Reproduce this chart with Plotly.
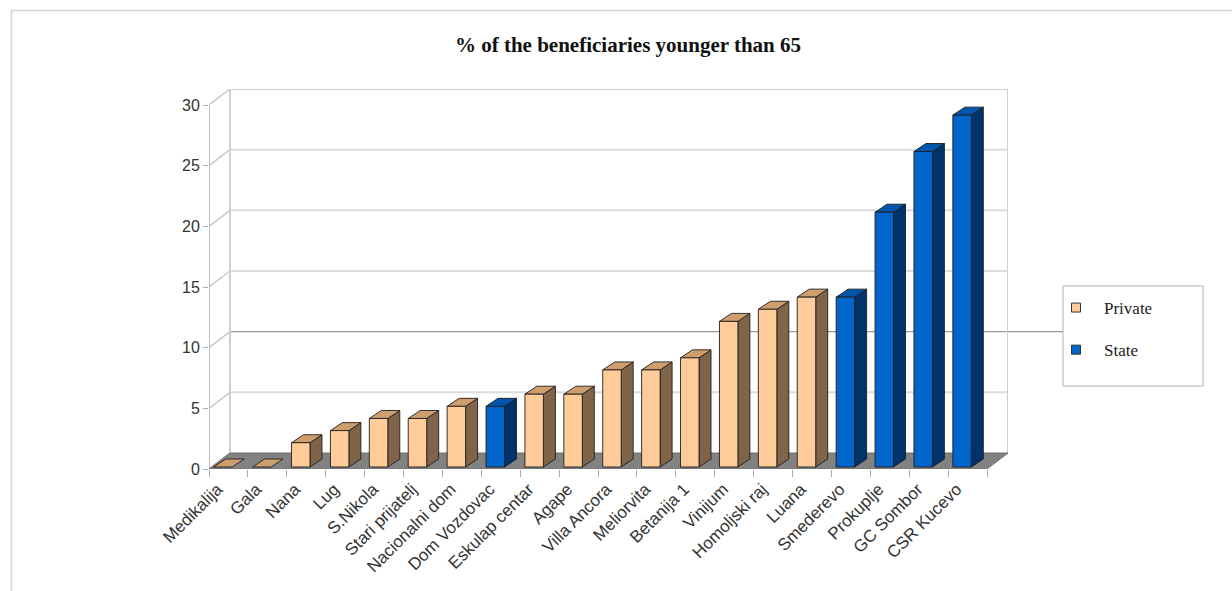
import plotly.graph_objects as go

# ---------------- data ----------------
categories = ["Medikalija", "Gala", "Nana", "Lug", "S.Nikola", "Stari prijatelj",
              "Nacionalni dom", "Dom Vozdovac", "Eskulap centar", "Agape",
              "Villa Ancora", "Meliorvita", "Betanija 1", "Vinijum",
              "Homoljski raj", "Luana", "Smederevo", "Prokuplje", "GC Sombor",
              "CSR Kucevo"]
values = [0, 0, 2, 3, 4, 4, 5, 5, 6, 6, 8, 8, 9, 12, 13, 14, 14, 21, 26, 29]
ownership = ["Private", "Private", "Private", "Private", "Private", "Private",
             "Private", "State", "Private", "Private", "Private", "Private",
             "Private", "Private", "Private", "Private", "State", "State",
             "State", "State"]
y_ticks = [0, 5, 10, 15, 20, 25, 30]
title_text = "% of the beneficiaries younger than 65"

# ---------------- geometry / style ----------------
W, H = 1232, 591
L_PX, R_PX, T_PX, B_PX = 209, 1008, 89, 469   # plot-area edges in pixels
X_PX = 38.95           # pixels per category
Y_PX = 12.133          # pixels per value unit
DX, DY = 21 / X_PX, 16 / Y_PX          # depth of the floor / walls
BX0, HW = -5.5 / X_PX, 9.25 / X_PX     # bar front-face centre shift, half width
BY0 = 2 / Y_PX                         # bar base raise
BDX, BDY = 12 / X_PX, 8 / Y_PX         # bar depth

YMAX = max(y_ticks)
n = len(categories)
x_lo, x_hi = -0.5, n - 0.5 + DX
y_lo, y_hi = 0, YMAX + DY

colors = {
    "Private": {"front": "#FFCC99", "side": "#80644A", "top": "#CF9E6E"},
    "State": {"front": "#0066CC", "side": "#003369", "top": "#0056AD"},
}
OUTLINE = "#1e1e1e"

def px2paper_x(px):
    return (px - L_PX) / (R_PX - L_PX)

def px2paper_y(py):
    return (B_PX - py) / (B_PX - T_PX)

fig = go.Figure()

# ---------------- walls & floor ----------------
grid_x, grid_y = [], []
for v in y_ticks[1:-1]:
    if v == 10:
        continue
    grid_x += [x_lo + DX, x_hi, None]
    grid_y += [v + DY, v + DY, None]
fig.add_trace(go.Scatter(x=grid_x, y=grid_y, mode="lines",
                         line=dict(color="#dcdcdc", width=2),
                         hoverinfo="skip", showlegend=False))
# darker 10-line on the back wall
fig.add_trace(go.Scatter(x=[x_lo + DX, x_hi], y=[10 + DY, 10 + DY], mode="lines",
                         line=dict(color="#9a9a9a", width=1.2),
                         hoverinfo="skip", showlegend=False))
# left wall diagonals
diag_x, diag_y = [], []
for v in y_ticks:
    diag_x += [x_lo, x_lo + DX, None]
    diag_y += [v, v + DY, None]
fig.add_trace(go.Scatter(x=diag_x, y=diag_y, mode="lines",
                         line=dict(color="#c8c8c8", width=1.5),
                         hoverinfo="skip", showlegend=False))
# wall edges (back-left vertical, top, right vertical, front axis)
fig.add_trace(go.Scatter(
    x=[x_lo + DX, x_lo + DX, None, x_lo + DX, x_hi, None, x_hi, x_hi],
    y=[DY, YMAX + DY, None, YMAX + DY, YMAX + DY, None, DY, YMAX + DY],
    mode="lines", line=dict(color="#cfcfcf", width=2),
    hoverinfo="skip", showlegend=False))
fig.add_trace(go.Scatter(x=[x_lo, x_lo], y=[0, YMAX], mode="lines",
                         line=dict(color="#a8a8a8", width=1.5),
                         hoverinfo="skip", showlegend=False))
# floor
fig.add_trace(go.Scatter(
    x=[x_lo, n - 0.5, n - 0.5 + DX, x_lo + DX, x_lo],
    y=[0, 0, DY, DY, 0], mode="lines", fill="toself",
    fillcolor="#828282", line=dict(color="#6e6e6e", width=1),
    hoverinfo="skip", showlegend=False))

# ---------------- bars ----------------
for kind in ["Private", "State"]:
    faces = {"front": ([], []), "side": ([], []), "top": ([], [])}
    for i, (v, k) in enumerate(zip(values, ownership)):
        if k != kind:
            continue
        xl = i + BX0 - HW
        xr = i + BX0 + HW
        yb = BY0
        yt = BY0 + v
        if v > 0:
            fx, fy = faces["front"]
            fx += [xl, xr, xr, xl, xl, None]
            fy += [yb, yb, yt, yt, yb, None]
            sx, sy = faces["side"]
            sx += [xr, xr + BDX, xr + BDX, xr, xr, None]
            sy += [yb, yb + BDY, yt + BDY, yt, yb, None]
        tx, ty = faces["top"]
        tx += [xl, xr, xr + BDX, xl + BDX, xl, None]
        ty += [yt, yt, yt + BDY, yt + BDY, yt, None]
    for face in ["side", "top", "front"]:
        fx, fy = faces[face]
        if not fx:
            continue
        fig.add_trace(go.Scatter(
            x=fx, y=fy, mode="lines", fill="toself",
            fillcolor=colors[kind][face],
            line=dict(color=OUTLINE, width=0.9),
            hoverinfo="skip", showlegend=False))

# legend-only entries
for kind in ["Private", "State"]:
    fig.add_trace(go.Scatter(
        x=[None], y=[None], mode="markers", name=kind, legendgroup=kind,
        marker=dict(symbol="square", size=9, color=colors[kind]["front"],
                    line=dict(color="#333333", width=1))))

# ---------------- shapes (frame, legend box, extended line) ----------------
shapes = [
    # outer frame
    dict(type="rect", xref="paper", yref="paper",
         x0=px2paper_x(11.5), x1=px2paper_x(1240), y0=px2paper_y(600), y1=px2paper_y(10.5),
         line=dict(color="#d4d4d4", width=1.5), fillcolor="rgba(0,0,0,0)", layer="below"),
    # legend box
    dict(type="rect", xref="paper", yref="paper",
         x0=px2paper_x(1063), x1=px2paper_x(1203), y0=px2paper_y(386), y1=px2paper_y(286),
         line=dict(color="#cccccc", width=1.5), fillcolor="white"),
    # 10-line extension towards the legend
    dict(type="line", xref="paper", yref="paper",
         x0=1.0, x1=px2paper_x(1063),
         y0=(10 + DY - y_lo) / (y_hi - y_lo), y1=(10 + DY - y_lo) / (y_hi - y_lo),
         line=dict(color="#9a9a9a", width=1.2)),
]

fig.update_layout(
    width=W, height=H,
    margin=dict(l=L_PX, r=W - R_PX, t=T_PX, b=H - B_PX, pad=0),
    paper_bgcolor="white", plot_bgcolor="white",
    shapes=shapes,
    title=dict(text=title_text, x=628 / W, xanchor="center",
               y=1 - 45 / H, yanchor="middle",
               font=dict(family="Liberation Serif, Times New Roman, serif",
                         size=21, color="#111111", weight="bold")),
    showlegend=True,
    legend=dict(x=px2paper_x(1048), y=px2paper_y(290), xanchor="left", yanchor="top",
                bgcolor="rgba(0,0,0,0)", borderwidth=0, itemwidth=46,
                tracegroupgap=17,
                font=dict(family="Liberation Serif, Times New Roman, serif",
                          size=17, color="#222222")),
    xaxis=dict(range=[x_lo, x_hi], showgrid=False, zeroline=False, showline=False,
               tickmode="array", tickvals=list(range(n)), ticktext=categories,
               tickangle=-45, ticks="", ticklabelshift=-11, ticklabelstandoff=6,
               tickfont=dict(family="Liberation Sans, Arial, sans-serif",
                             size=17, color="#333333"),
               minor=dict(ticks="outside", tick0=-0.5, dtick=1, ticklen=7,
                          tickcolor="#aaaaaa", tickwidth=1, showgrid=False),
               fixedrange=True),
    yaxis=dict(range=[y_lo, y_hi], showgrid=False, zeroline=False, showline=False,
               tickmode="array", tickvals=y_ticks, ticks="outside", ticklen=5,
               tickcolor="#aaaaaa",
               tickfont=dict(family="Liberation Sans, Arial, sans-serif",
                             size=16, color="#333333"),
               fixedrange=True),
)

fig.write_html("out.html")
